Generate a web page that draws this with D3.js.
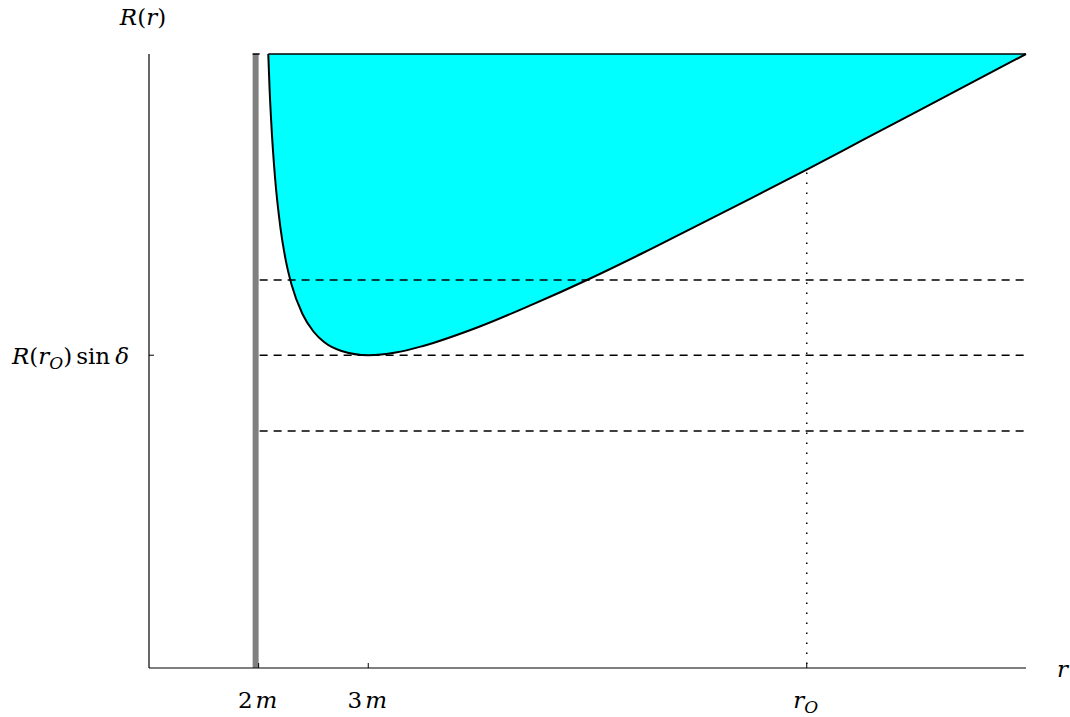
<!DOCTYPE html>
<html>
<head>
<meta charset="utf-8">
<script src="https://cdn.jsdelivr.net/npm/d3@7"></script>
<style>
  body { margin: 0; background: #fff; }
  svg { display: block; }
  text { font-family: "DejaVu Serif", "Liberation Serif", serif; font-size: 23px; fill: #000; }
  .it { font-style: italic; }
</style>
</head>
<body>
<svg id="chart" width="1070" height="717"></svg>
<script>
// curve R(r) (m = 1)
const rVals = [2.088, 2.1, 2.12, 2.15, 2.2, 2.25, 2.3, 2.4, 2.5, 2.6, 2.75, 3, 3.25, 3.5, 4, 4.5, 5, 5.5, 6, 6.5, 7, 7.5, 8, 8.5, 9];
const RVals = [10.2, 9.62, 8.91, 8.14, 7.30, 6.75, 6.37, 5.88, 5.59, 5.41, 5.27, 5.196, 5.24, 5.35, 5.66, 6.04, 6.45, 6.89, 7.35, 7.81, 8.28, 8.76, 9.24, 9.72, 10.2];

// horizontal dashed levels
const levels = [6.445, 5.196, 3.937];
// x ticks
const xTicks = [2, 3, 7];
const xTickLabels = [["2", "m"], ["3", "m"], ["r", "O"]];
const rObs = 7;
const Rmin = 5.196;
const Rtop = 10.2;

const svg = d3.select("#chart");

const x = d3.scaleLinear().domain([1, 9]).range([149, 1026]);
const y = d3.scaleLinear().domain([0, 10.2]).range([668, 54]);

const pts = rVals.map((r, i) => ({ r: r, R: RVals[i] }));

// filled region above the curve
const area = d3.area()
    .x(d => x(d.r))
    .y0(y(Rtop))
    .y1(d => y(d.R))
    .curve(d3.curveMonotoneX);

svg.append("path")
    .datum(pts)
    .attr("d", area)
    .attr("fill", "#00ffff");

// top edge of the region
svg.append("line")
    .attr("x1", x(rVals[0])).attr("x2", x(9))
    .attr("y1", y(Rtop)).attr("y2", y(Rtop))
    .attr("stroke", "#000").attr("stroke-width", 1.5);

// gray bar at the horizon r = 2m
svg.append("rect")
    .attr("x", x(2) - 6).attr("y", y(Rtop))
    .attr("width", 6).attr("height", y(0) - y(Rtop))
    .attr("fill", "#808080");

svg.append("line")
    .attr("x1", x(2) - 6).attr("x2", x(2) + 1)
    .attr("y1", y(Rtop)).attr("y2", y(Rtop))
    .attr("stroke", "#000").attr("stroke-width", 1.5);

// dashed levels
svg.selectAll("line.level")
    .data(levels)
    .enter().append("line")
    .attr("class", "level")
    .attr("x1", x(2) + 1).attr("x2", x(9))
    .attr("y1", d => y(d)).attr("y2", d => y(d))
    .attr("stroke", "#000").attr("stroke-width", 1.5)
    .attr("stroke-dasharray", "8,6");

// curve
const line = d3.line()
    .x(d => x(d.r))
    .y(d => y(d.R))
    .curve(d3.curveMonotoneX);

svg.append("path")
    .datum(pts)
    .attr("d", line)
    .attr("fill", "none")
    .attr("stroke", "#000")
    .attr("stroke-width", 2);

// dotted line at r_O
svg.append("line")
    .attr("x1", x(rObs)).attr("x2", x(rObs))
    .attr("y1", y(RVals[rVals.indexOf(rObs)]) + 3).attr("y2", y(0))
    .attr("stroke", "#000").attr("stroke-width", 1.5)
    .attr("stroke-dasharray", "1.5,8.5");

// axes
svg.append("line")
    .attr("x1", x(1)).attr("x2", x(1))
    .attr("y1", y(Rtop)).attr("y2", y(0))
    .attr("stroke", "#000").attr("stroke-width", 1.2);

svg.append("line")
    .attr("x1", x(1)).attr("x2", x(9))
    .attr("y1", y(0)).attr("y2", y(0))
    .attr("stroke", "#000").attr("stroke-width", 1.2);

// ticks
svg.selectAll("line.xtick")
    .data(xTicks)
    .enter().append("line")
    .attr("x1", d => x(d)).attr("x2", d => x(d))
    .attr("y1", y(0)).attr("y2", y(0) - 5)
    .attr("stroke", "#000").attr("stroke-width", 1);

svg.append("line")
    .attr("x1", x(1)).attr("x2", x(1) + 5)
    .attr("y1", y(Rmin)).attr("y2", y(Rmin))
    .attr("stroke", "#000").attr("stroke-width", 1);

// x tick labels
xTicks.forEach((t, i) => {
    const lab = xTickLabels[i];
    const tx = svg.append("text")
        .attr("x", x(t) - 1)
        .attr("y", 708)
        .attr("text-anchor", "middle");
    if (i < 2) {
        tx.append("tspan").text(lab[0]);
        tx.append("tspan").attr("class", "it").attr("dx", 3).text(lab[1]);
    } else {
        tx.append("tspan").attr("class", "it").text(lab[0]);
        tx.append("tspan").attr("class", "it").attr("dy", 5).attr("font-size", 17).text(lab[1]);
    }
});

// axis titles
const yt = svg.append("text").attr("x", 143).attr("y", 25).attr("text-anchor", "middle").attr("font-size", 25);
yt.append("tspan").attr("class", "it").text("R");
yt.append("tspan").text("(");
yt.append("tspan").attr("class", "it").text("r");
yt.append("tspan").text(")");

svg.append("text").attr("class", "it").attr("x", 1057).attr("y", 677).text("r");

const yl = svg.append("text").attr("x", 129).attr("y", 364).attr("text-anchor", "end");
yl.append("tspan").attr("class", "it").text("R");
yl.append("tspan").text("(");
yl.append("tspan").attr("class", "it").text("r");
yl.append("tspan").attr("class", "it").attr("dy", 5).attr("font-size", 17).text("O");
yl.append("tspan").attr("dy", -5).text(")");
yl.append("tspan").attr("dx", 4).text("sin");
yl.append("tspan").attr("class", "it").attr("dx", 5).text("δ");
</script>
</body>
</html>
